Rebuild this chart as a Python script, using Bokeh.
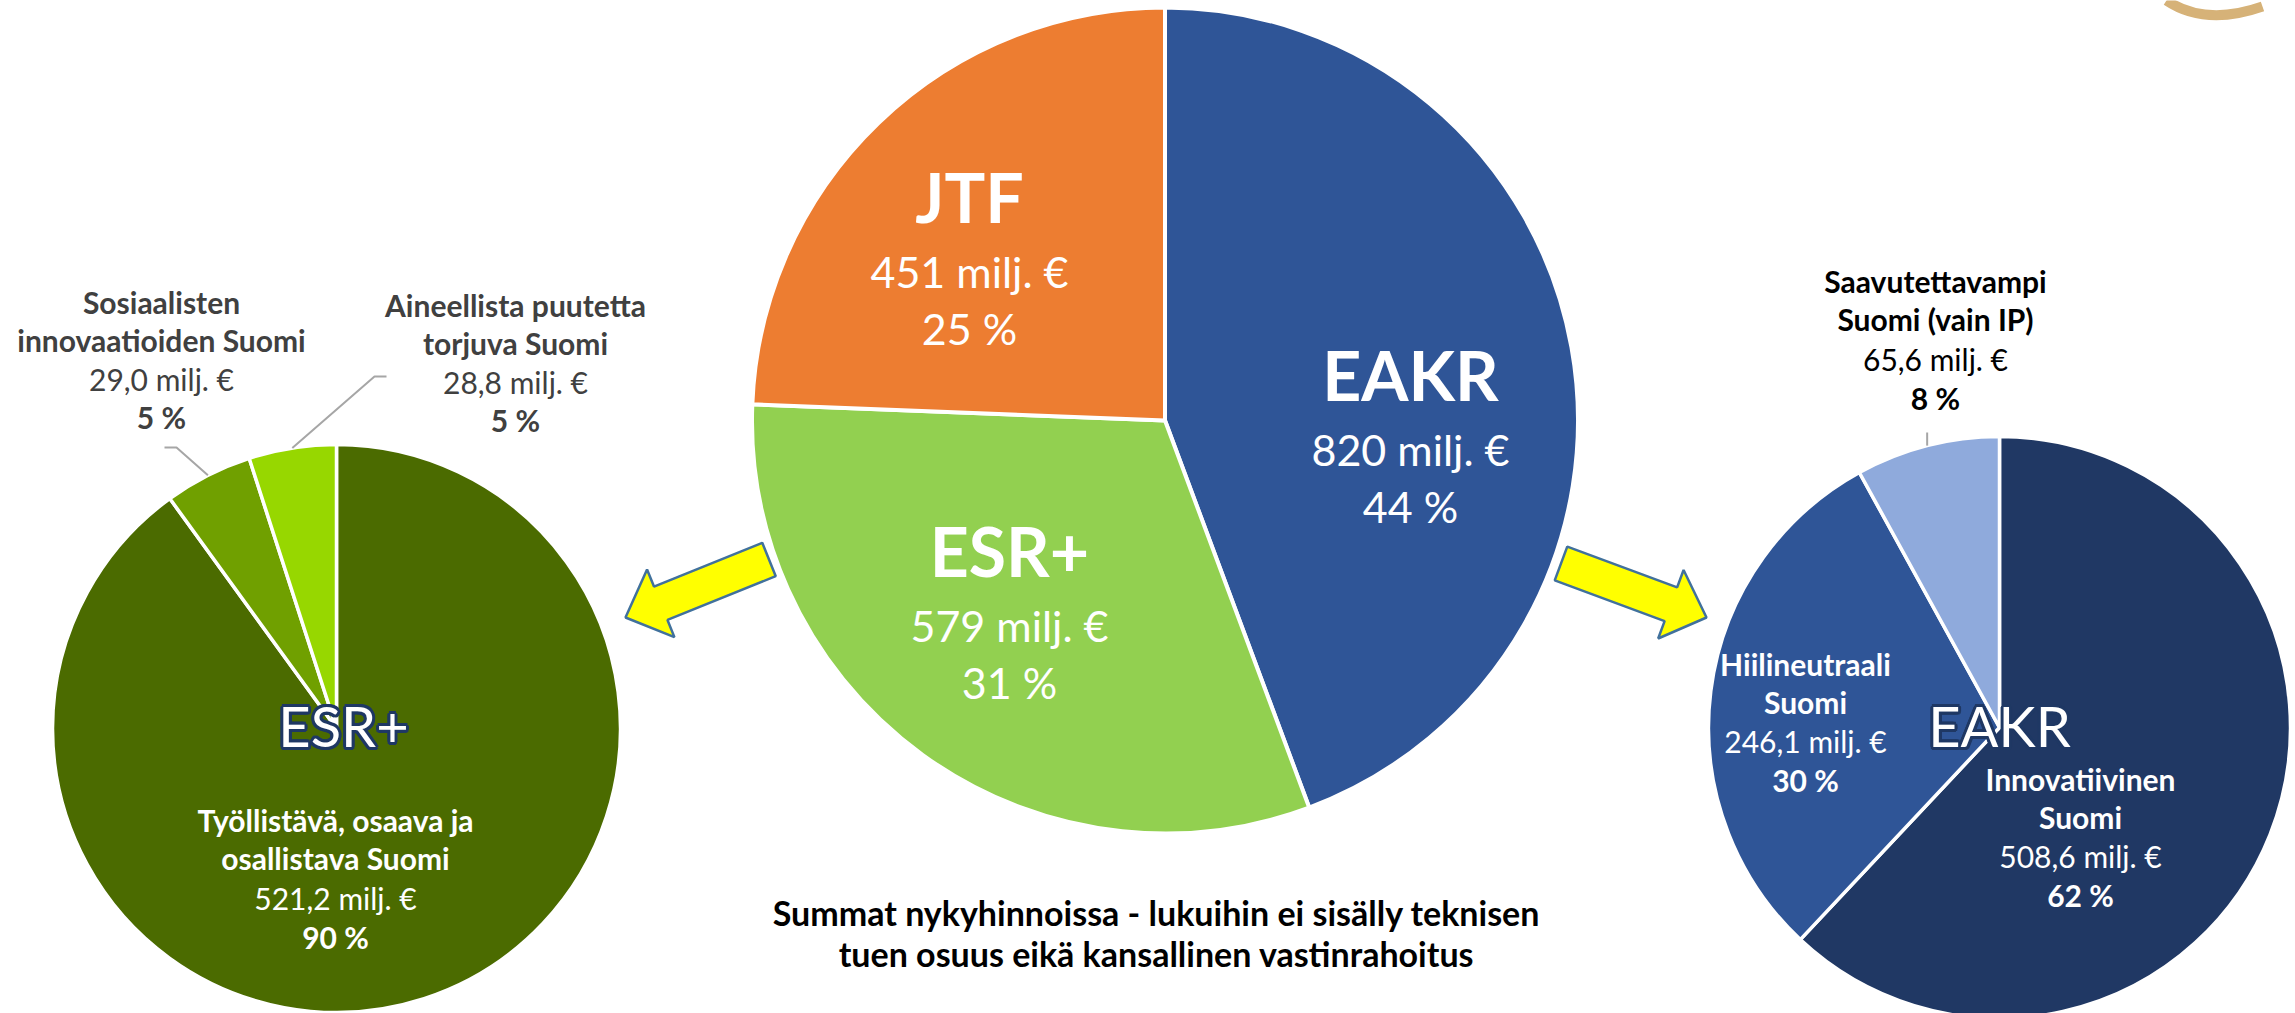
import numpy as np
from bokeh.plotting import figure
from bokeh.models import Range1d, ColumnDataSource
from bokeh.core.properties import value
from bokeh.embed import file_html
from bokeh.resources import INLINE

# ---------------- data ----------------
fund_names = ["EAKR", "ESR+", "JTF"]
fund_values = [820, 579, 451]
fund_pcts = [44, 31, 25]

esr_names = [["Työllistävä, osaava ja", "osallistava Suomi"],
             ["Sosiaalisten", "innovaatioiden Suomi"],
             ["Aineellista puutetta", "torjuva Suomi"]]
esr_values = [521.2, 29.0, 28.8]
esr_pcts = [90, 5, 5]

eakr_names = [["Innovatiivinen", "Suomi"],
              ["Hiilineutraali", "Suomi"],
              ["Saavutettavampi", "Suomi (vain IP)"]]
eakr_values = [508.6, 246.1, 65.6]
eakr_pcts = [62, 30, 8]

note_lines = ["Summat nykyhinnoissa - lukuihin ei sisälly teknisen",
              "tuen osuus eikä kansallinen vastinrahoitus"]

# ---------------- styles ----------------
fund_colors = ["#2F5597", "#92D050", "#ED7D31"]
esr_colors = ["#4B6B00", "#70A000", "#97D700"]
eakr_colors = ["#203864", "#2F5597", "#8FAADC"]
FONT = value("Lato")
W_PLOT, H_PLOT = 2295, 1013  # Bokeh page template has zero body margin

p = figure(width=W_PLOT, height=H_PLOT, output_backend="svg", toolbar_location=None,
           x_range=Range1d(0, W_PLOT), y_range=Range1d(0, H_PLOT), min_border=0)
p.axis.visible = False
p.grid.visible = False
p.outline_line_color = None
p.background_fill_color = "white"


def Y(y):
    return H_PLOT - y


def angles(vals):
    total = float(sum(vals))
    cum = np.concatenate([[0.0], np.cumsum(vals)]) / total
    start = np.pi / 2 - 2 * np.pi * cum[1:]
    end = np.pi / 2 - 2 * np.pi * cum[:-1]
    mid = np.pi / 2 - 2 * np.pi * (cum[1:] + cum[:-1]) / 2
    return start, end, mid


def pie(cx, cy, r, vals, colors, lw=3.5):
    start, end, mid = angles(vals)
    src = ColumnDataSource(dict(start=start, end=end, color=colors))
    p.wedge(x=cx, y=Y(cy), radius=r, start_angle="start", end_angle="end",
            fill_color="color", line_color="white", line_width=lw, source=src)
    return mid


def txt(x, y, s, size, color, bold=False, **kw):
    p.text(x=[x], y=[Y(y)], text=[s], text_font=FONT, text_font_size=f"{size}px",
           text_color=color, text_align="center", text_baseline="middle",
           text_font_style="bold" if bold else "normal", **kw)


def outlined(x, y, s, size, fill="white", stroke="#1F3864", w=3.0):
    ang = np.linspace(0, 2 * np.pi, 12, endpoint=False)
    xs = x + w * np.cos(ang)
    ys = Y(y) + w * np.sin(ang)
    p.text(x=xs, y=ys, text=[s] * len(ang), text_font=FONT, text_font_size=f"{size}px",
           text_color=stroke, text_align="center", text_baseline="middle")
    txt(x, y, s, size, fill)


def fmt1(v):
    return f"{v:.1f}".replace(".", ",") + " milj. €"


def block(x, y, lines, val, pct, color, size, gaps=(38, 77, 115)):
    txt(x, y, lines[0], size, color, bold=True)
    txt(x, y + gaps[0], lines[1], size, color, bold=True)
    txt(x, y + gaps[1], fmt1(val), size, color)
    txt(x, y + gaps[2], f"{pct} %", size, color, bold=True)


# ---------------- pies ----------------
C_CX, C_CY, C_R = 1164.5, 420, 413
L_CX, L_CY, L_R = 336, 728, 284
R_CX, R_CY, R_R = 1999, 727, 291

pie(C_CX, C_CY, C_R, fund_values, fund_colors, lw=4)
l_mid = pie(L_CX, L_CY, L_R, esr_values, esr_colors)
r_mid = pie(R_CX, R_CY, R_R, eakr_values, eakr_colors)

# ---------------- center pie labels ----------------
c_pos = [(1410, 374), (1009, 550), (969, 196)]
for (x, y), n, v, pc in zip(c_pos, fund_names, fund_values, fund_pcts):
    txt(x, y, n, 68, "white", bold=True)
    txt(x, y + 75, f"{v} milj. €", 43, "white")
    txt(x, y + 132, f"{pc} %", 43, "white")

# ---------------- ESR+ pie labels ----------------
LBL = 30
outlined(L_CX + 7, 725, "ESR+", 56)
block(335, 819, esr_names[0], esr_values[0], esr_pcts[0], "white", LBL, gaps=(38, 78, 117))
block(161, 301, esr_names[1], esr_values[1], esr_pcts[1], "#404040", LBL)
block(515, 304, esr_names[2], esr_values[2], esr_pcts[2], "#404040", LBL)

# leader lines (ESR+)
ex = L_CX + L_R * np.cos(l_mid)
ey = Y(L_CY) + L_R * np.sin(l_mid)
p.line(x=[164, 176, ex[1]], y=[Y(447), Y(447), ey[1]], line_color="#A6A6A6", line_width=2)
p.line(x=[386, 374, ex[2]], y=[Y(376), Y(376), ey[2]], line_color="#A6A6A6", line_width=2)

# ---------------- EAKR pie labels ----------------
outlined(R_CX, 725, "EAKR", 56)
block(2080, 778, eakr_names[0], eakr_values[0], eakr_pcts[0], "white", LBL, gaps=(38, 77, 116))
block(1805, 663, eakr_names[1], eakr_values[1], eakr_pcts[1], "white", LBL, gaps=(38, 77, 116))
block(1935, 280, eakr_names[2], eakr_values[2], eakr_pcts[2], "black", LBL, gaps=(38, 78, 117))
rx = R_CX + R_R * np.cos(r_mid)
ry = Y(R_CY) + R_R * np.sin(r_mid)
p.line(x=[rx[2], rx[2]], y=[Y(432), ry[2]], line_color="#A6A6A6", line_width=2)


# ---------------- arrows ----------------
def arrow(tail, tip, shaft_w=36, head_w=73, head_len=38):
    t = np.array(tail, float)
    e = np.array(tip, float)
    d = e - t
    L = np.hypot(*d)
    u = d / L
    n = np.array([-u[1], u[0]])
    b = e - u * head_len
    pts = [t + n * shaft_w / 2, b + n * shaft_w / 2, b + n * head_w / 2, e,
           b - n * head_w / 2, b - n * shaft_w / 2, t - n * shaft_w / 2]
    xs = [q[0] for q in pts]
    ys = [Y(q[1]) for q in pts]
    p.patch(xs, ys, fill_color="#FFFF00", line_color="#41719C", line_width=2.5)


arrow((768.5, 559), (625, 617))
arrow((1560.5, 563), (1706, 617))

# ---------------- note ----------------
txt(1156, 912, note_lines[0], 34, "black", bold=True)
txt(1156, 953, note_lines[1], 34, "black", bold=True)

# ---------------- decoration (logo fragment, top right) ----------------
p.quadratic(x0=[2166], y0=[Y(0)], x1=[2262], y1=[Y(6)], cx=[2205], cy=[Y(26)],
            line_color="#D6B278", line_width=10)

open("out.html", "w").write(file_html(p, INLINE))
